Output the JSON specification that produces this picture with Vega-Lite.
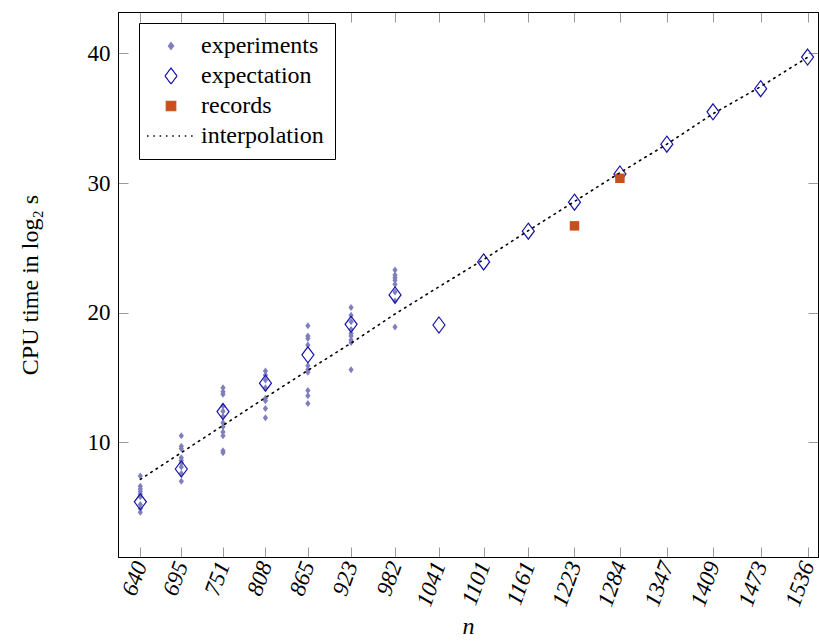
{
  "$schema": "https://vega.github.io/schema/vega-lite/v6.json",
  "width": 700,
  "height": 545,
  "autosize": {"type": "none"},
  "padding": {"left": 118, "top": 12, "right": 1, "bottom": 86},
  "background": "white",
  "config": {
    "font": "Liberation Serif",
    "view": {"stroke": "#000", "strokeWidth": 1},
    "legend": {"labelFont": "Liberation Serif", "labelFontSize": 24, "labelColor": "#000"},
    "axis": {
      "grid": false,
      "labelFont": "Liberation Serif",
      "titleFont": "Liberation Serif",
      "labelFontSize": 23,
      "titleFontSize": 24,
      "titleFontWeight": "normal",
      "labelColor": "#000",
      "titleColor": "#000",
      "domainColor": "#000",
      "domainWidth": 1,
      "tickColor": "#9a9a9a",
      "tickSize": -10,
      "tickWidth": 1
    }
  },
  "datasets": {
    "experiments": [
      {"n": 640, "t": 7.4, "series": "experiments"},
      {"n": 640, "t": 6.6, "series": "experiments"},
      {"n": 640, "t": 6.4, "series": "experiments"},
      {"n": 640, "t": 6.2, "series": "experiments"},
      {"n": 640, "t": 6.0, "series": "experiments"},
      {"n": 640, "t": 5.8, "series": "experiments"},
      {"n": 640, "t": 5.2, "series": "experiments"},
      {"n": 640, "t": 4.9, "series": "experiments"},
      {"n": 640, "t": 4.6, "series": "experiments"},
      {"n": 695, "t": 10.5, "series": "experiments"},
      {"n": 695, "t": 9.7, "series": "experiments"},
      {"n": 695, "t": 9.5, "series": "experiments"},
      {"n": 695, "t": 8.8, "series": "experiments"},
      {"n": 695, "t": 8.6, "series": "experiments"},
      {"n": 695, "t": 8.4, "series": "experiments"},
      {"n": 695, "t": 8.1, "series": "experiments"},
      {"n": 695, "t": 7.6, "series": "experiments"},
      {"n": 695, "t": 7.0, "series": "experiments"},
      {"n": 751, "t": 14.2, "series": "experiments"},
      {"n": 751, "t": 13.9, "series": "experiments"},
      {"n": 751, "t": 13.7, "series": "experiments"},
      {"n": 751, "t": 12.8, "series": "experiments"},
      {"n": 751, "t": 12.4, "series": "experiments"},
      {"n": 751, "t": 12.0, "series": "experiments"},
      {"n": 751, "t": 11.5, "series": "experiments"},
      {"n": 751, "t": 11.2, "series": "experiments"},
      {"n": 751, "t": 10.8, "series": "experiments"},
      {"n": 751, "t": 10.5, "series": "experiments"},
      {"n": 751, "t": 9.35, "series": "experiments"},
      {"n": 751, "t": 9.2, "series": "experiments"},
      {"n": 808, "t": 15.5, "series": "experiments"},
      {"n": 808, "t": 15.2, "series": "experiments"},
      {"n": 808, "t": 14.8, "series": "experiments"},
      {"n": 808, "t": 14.2, "series": "experiments"},
      {"n": 808, "t": 13.4, "series": "experiments"},
      {"n": 808, "t": 13.2, "series": "experiments"},
      {"n": 808, "t": 12.6, "series": "experiments"},
      {"n": 808, "t": 11.9, "series": "experiments"},
      {"n": 865, "t": 19.0, "series": "experiments"},
      {"n": 865, "t": 18.2, "series": "experiments"},
      {"n": 865, "t": 18.0, "series": "experiments"},
      {"n": 865, "t": 17.5, "series": "experiments"},
      {"n": 865, "t": 15.9, "series": "experiments"},
      {"n": 865, "t": 15.6, "series": "experiments"},
      {"n": 865, "t": 15.4, "series": "experiments"},
      {"n": 865, "t": 14.0, "series": "experiments"},
      {"n": 865, "t": 13.6, "series": "experiments"},
      {"n": 865, "t": 13.0, "series": "experiments"},
      {"n": 923, "t": 20.4, "series": "experiments"},
      {"n": 923, "t": 19.8, "series": "experiments"},
      {"n": 923, "t": 19.3, "series": "experiments"},
      {"n": 923, "t": 18.7, "series": "experiments"},
      {"n": 923, "t": 18.4, "series": "experiments"},
      {"n": 923, "t": 18.2, "series": "experiments"},
      {"n": 923, "t": 17.9, "series": "experiments"},
      {"n": 923, "t": 17.7, "series": "experiments"},
      {"n": 923, "t": 15.6, "series": "experiments"},
      {"n": 982, "t": 23.3, "series": "experiments"},
      {"n": 982, "t": 22.9, "series": "experiments"},
      {"n": 982, "t": 22.7, "series": "experiments"},
      {"n": 982, "t": 22.5, "series": "experiments"},
      {"n": 982, "t": 22.2, "series": "experiments"},
      {"n": 982, "t": 21.6, "series": "experiments"},
      {"n": 982, "t": 20.9, "series": "experiments"},
      {"n": 982, "t": 18.9, "series": "experiments"}
    ],
    "expectation": [
      {"n": 640, "t": 5.41, "series": "expectation"},
      {"n": 695, "t": 7.94, "series": "expectation"},
      {"n": 751, "t": 12.37, "series": "expectation"},
      {"n": 808, "t": 14.56, "series": "expectation"},
      {"n": 865, "t": 16.75, "series": "expectation"},
      {"n": 923, "t": 19.1, "series": "expectation"},
      {"n": 982, "t": 21.37, "series": "expectation"},
      {"n": 1041, "t": 19.05, "series": "expectation"},
      {"n": 1101, "t": 23.92, "series": "expectation"},
      {"n": 1161, "t": 26.29, "series": "expectation"},
      {"n": 1223, "t": 28.53, "series": "expectation"},
      {"n": 1284, "t": 30.7, "series": "expectation"},
      {"n": 1347, "t": 33.0, "series": "expectation"},
      {"n": 1409, "t": 35.5, "series": "expectation"},
      {"n": 1473, "t": 37.28, "series": "expectation"},
      {"n": 1536, "t": 39.72, "series": "expectation"}
    ],
    "records": [
      {"n": 1223, "t": 26.7, "series": "records"},
      {"n": 1284, "t": 30.37, "series": "records"}
    ],
    "interpolation": [
      {"n": 640, "t": 7.14, "series": "interpolation"},
      {"n": 695, "t": 9.2, "series": "interpolation"},
      {"n": 751, "t": 11.3, "series": "interpolation"},
      {"n": 808, "t": 13.45, "series": "interpolation"},
      {"n": 865, "t": 15.55, "series": "interpolation"},
      {"n": 923, "t": 17.65, "series": "interpolation"},
      {"n": 982, "t": 19.9, "series": "interpolation"},
      {"n": 1041, "t": 22.0, "series": "interpolation"},
      {"n": 1101, "t": 24.1, "series": "interpolation"},
      {"n": 1161, "t": 26.33, "series": "interpolation"},
      {"n": 1223, "t": 28.58, "series": "interpolation"},
      {"n": 1284, "t": 30.8, "series": "interpolation"},
      {"n": 1347, "t": 33.0, "series": "interpolation"},
      {"n": 1409, "t": 35.35, "series": "interpolation"},
      {"n": 1473, "t": 37.44, "series": "interpolation"},
      {"n": 1536, "t": 39.7, "series": "interpolation"}
    ]
  },
  "encoding": {
    "color": {
      "field": "series",
      "type": "nominal",
      "scale": {
        "domain": ["experiments", "expectation", "records", "interpolation"],
        "range": ["#7f7fbf", "#1414a8", "#c9501c", "#000000"]
      },
      "legend": {
        "title": null,
        "orient": "none",
        "legendX": 21,
        "legendY": 11,
        "fillColor": "#ffffff",
        "strokeColor": "#000000",
        "padding": 11,
        "rowPadding": 6,
        "labelFont": "Liberation Serif",
        "labelFontSize": 24,
        "labelColor": "#000",
        "labelOffset": 18,
        "symbolOffset": 9,
        "labelLimit": 0,
        "symbolSize": 2300,
        "symbolStrokeWidth": 1.2,
        "encode": {
          "symbols": {
            "update": {
              "shape": {"signal": "datum.value === 'interpolation' ? 'stroke' : datum.value === 'records' ? 'square' : 'M0,-1L0.75,0L0,1L-0.75,0Z'"},
              "size": {"signal": "datum.value === 'interpolation' ? 2300 : datum.value === 'records' ? 90 : datum.value === 'expectation' ? 256 : 49"},
              "fill": {"signal": "datum.value === 'experiments' ? '#7f7fbf' : datum.value === 'records' ? '#c9501c' : '#ffffff'"},
              "fillOpacity": {"signal": "datum.value === 'experiments' || datum.value === 'records' ? 1 : 0"},
              "stroke": {"signal": "datum.value === 'expectation' ? '#1414a8' : datum.value === 'interpolation' ? '#000000' : 'transparent'"},
              "strokeDash": {"signal": "datum.value === 'interpolation' ? [1.5, 4.8] : [1, 0]"},
              "strokeWidth": {"signal": "datum.value === 'interpolation' ? 1.6 : 1.2"},
              "opacity": {"value": 1}
            }
          }
        }
      }
    }
  },
  "layer": [
    {
      "data": {"name": "experiments"},
      "mark": {"type": "point", "shape": "M0,-1L0.75,0L0,1L-0.75,0Z", "filled": true, "size": 49, "opacity": 1},
      "encoding": {
        "x": {
          "field": "n", "type": "quantitative",
          "scale": {"domain": [610, 1550], "nice": false, "zero": false},
          "axis": {
            "orient": "bottom",
            "values": [640, 695, 751, 808, 865, 923, 982, 1041, 1101, 1161, 1223, 1284, 1347, 1409, 1473, 1536],
            "format": "d",
            "title": "n",
            "titleFontStyle": "italic",
            "titlePadding": 5,
            "labelAngle": -70,
            "labelAlign": "right",
            "labelBaseline": "middle",
            "labelFontStyle": "italic",
            "labelPadding": 15,
            "labelOverlap": false,
            "labelFlush": false,
            "labelBound": false
          }
        },
        "y": {
          "field": "t", "type": "quantitative",
          "scale": {"domain": [1.15, 43.2], "nice": false, "zero": false},
          "axis": {
            "orient": "left",
            "values": [10, 20, 30, 40],
            "title": "CPU time in log₂ s",
            "labelPadding": 18,
            "titlePadding": 45
          }
        }
      }
    },
    {
      "data": {"name": "expectation"},
      "mark": {"type": "point", "shape": "M0,-1L0.75,0L0,1L-0.75,0Z", "filled": false, "size": 256, "strokeWidth": 1.2, "opacity": 1},
      "encoding": {
        "x": {
          "field": "n", "type": "quantitative",
          "scale": {"domain": [610, 1550], "nice": false, "zero": false},
          "axis": {
            "orient": "top",
            "values": [640, 695, 751, 808, 865, 923, 982, 1041, 1101, 1161, 1223, 1284, 1347, 1409, 1473, 1536],
            "labels": false,
            "title": null
          }
        },
        "y": {
          "field": "t", "type": "quantitative",
          "scale": {"domain": [1.15, 43.2], "nice": false, "zero": false},
          "axis": {
            "orient": "right",
            "values": [10, 20, 30, 40],
            "labels": false,
            "title": null
          }
        }
      }
    },
    {
      "data": {"name": "records"},
      "mark": {"type": "point", "shape": "square", "filled": true, "size": 90, "opacity": 1},
      "encoding": {
        "x": {"field": "n", "type": "quantitative", "scale": {"domain": [610, 1550], "nice": false, "zero": false}, "axis": null},
        "y": {"field": "t", "type": "quantitative", "scale": {"domain": [1.15, 43.2], "nice": false, "zero": false}, "axis": null}
      }
    },
    {
      "data": {"name": "interpolation"},
      "mark": {"type": "line", "strokeDash": [1.5, 4.8], "strokeWidth": 1.6, "strokeCap": "round"},
      "encoding": {
        "x": {"field": "n", "type": "quantitative", "scale": {"domain": [610, 1550], "nice": false, "zero": false}, "axis": null},
        "y": {"field": "t", "type": "quantitative", "scale": {"domain": [1.15, 43.2], "nice": false, "zero": false}, "axis": null}
      }
    }
  ],
  "resolve": {"axis": {"x": "independent", "y": "independent"}}
}
